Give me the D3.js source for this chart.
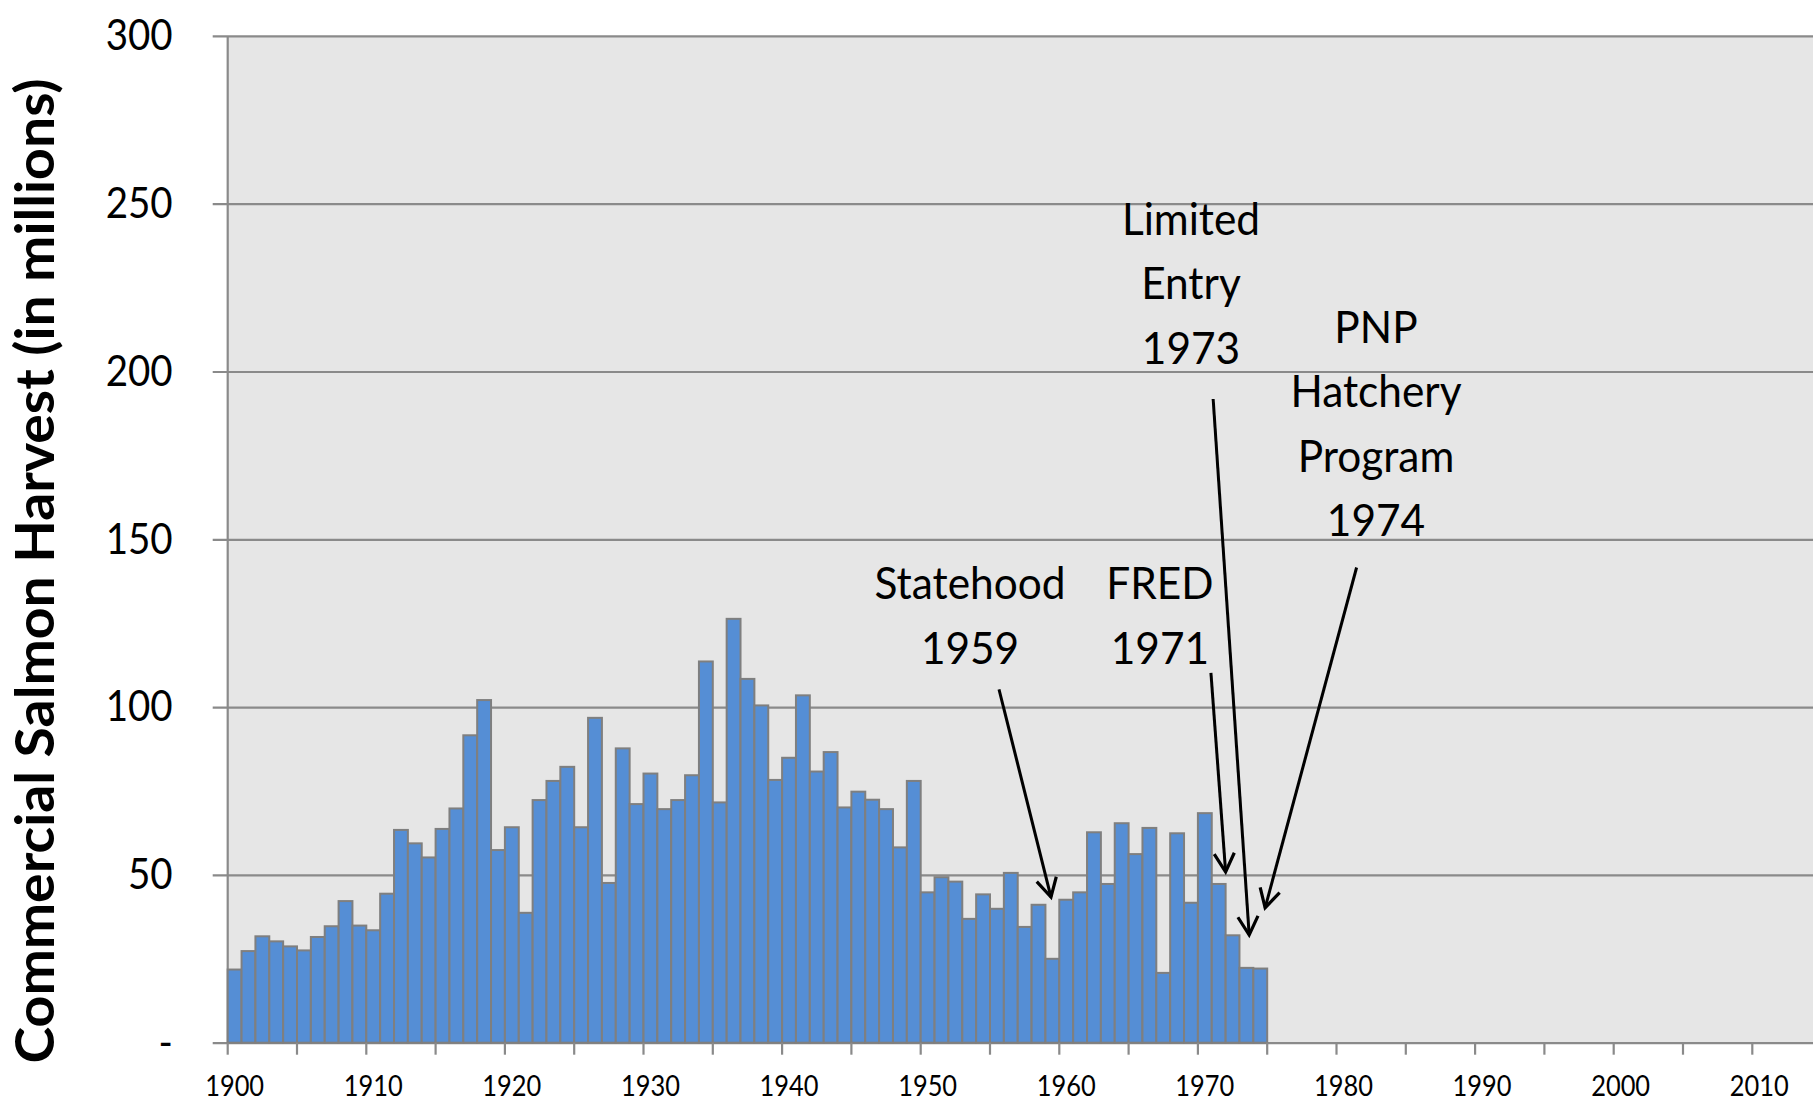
<!DOCTYPE html>
<html>
<head>
<meta charset="utf-8">
<script src="https://cdn.jsdelivr.net/npm/d3@7"></script>
<style>
  html, body { margin: 0; padding: 0; background: #fff; }
  svg { display: block; font-family: Lato, "Open Sans", sans-serif; }
</style>
</head>
<body>
<div id="chart"></div>
<script>
// harvest by year, millions of fish
const years = [1900, 1901, 1902, 1903, 1904, 1905, 1906, 1907, 1908, 1909,
  1910, 1911, 1912, 1913, 1914, 1915, 1916, 1917, 1918, 1919,
  1920, 1921, 1922, 1923, 1924, 1925, 1926, 1927, 1928, 1929,
  1930, 1931, 1932, 1933, 1934, 1935, 1936, 1937, 1938, 1939,
  1940, 1941, 1942, 1943, 1944, 1945, 1946, 1947, 1948, 1949,
  1950, 1951, 1952, 1953, 1954, 1955, 1956, 1957, 1958, 1959,
  1960, 1961, 1962, 1963, 1964, 1965, 1966, 1967, 1968, 1969,
  1970, 1971, 1972, 1973, 1974];
const harvest = [21.8, 27.3, 31.7, 30.2, 28.7, 27.5, 31.5, 34.7, 42.2, 34.9,
  33.5, 44.4, 63.4, 59.4, 55.2, 63.7, 69.8, 91.6, 102.1, 57.4,
  64.2, 38.7, 72.3, 78.0, 82.2, 64.2, 96.8, 47.6, 87.7, 71.1,
  80.2, 69.6, 72.3, 79.7, 113.6, 71.6, 126.3, 108.4, 100.5, 78.3,
  84.9, 103.5, 80.8, 86.6, 70.1, 74.8, 72.4, 69.6, 58.2, 78.0,
  44.8, 49.3, 48.0, 36.9, 44.2, 39.9, 50.6, 34.5, 41.1, 25.0,
  42.6, 44.8, 62.7, 47.3, 65.4, 56.2, 64.0, 20.8, 62.4, 41.7,
  68.4, 47.3, 32.0, 22.3, 22.1];

// axis extent and labels
const firstYear = 1900, lastYear = 2014;
const xLabelYears = [1900, 1910, 1920, 1930, 1940, 1950, 1960, 1970, 1980, 1990, 2000, 2010];
const yTicks = [0, 50, 100, 150, 200, 250, 300];
const yTickLabels = ["-", "50", "100", "150", "200", "250", "300"];
const yTitle = "Commercial Salmon Harvest (in millions)";

// event callouts, placed in (year, value) units
const annotations = [
  { lines: ["Statehood", "1959"], at: [1953.56, 132.2], from: [1955.65, 105.3], to: [1959.4, 43.4] },
  { lines: ["FRED", "1971"], at: [1967.26, 132.2], from: [1970.94, 110.2], to: [1972.0, 50.9] },
  { lines: ["Limited", "Entry", "1973"], at: [1969.5, 240.7], from: [1971.1, 191.8], to: [1973.7, 32.1] },
  { lines: ["PNP", "Hatchery", "Program", "1974"], at: [1982.85, 208.5], from: [1981.45, 141.6], to: [1974.85, 40.2] }
];

const W = 1813, H = 1102;
const plotLeft = 227.7, barW = 13.86;
const plotTop = 35.9, plotBottom = 1042.7;
const nCats = lastYear - firstYear + 1;
const plotRight = plotLeft + nCats * barW;

const svg = d3.select("#chart").append("svg")
  .attr("width", W).attr("height", H);

// text width fitting: the source uses a narrower face than we have
function naturalWidth(str, size, weight) {
  const t = svg.append("text").attr("font-size", size).attr("font-weight", weight || 400).text(str);
  const w = t.node().getComputedTextLength();
  t.remove();
  return w;
}
const yTickSize = 43, yTickSx = 67 / naturalWidth("300", yTickSize);
const xTickSize = 29.3, xTickSx = 59 / naturalWidth("1900", xTickSize);
const noteSize = 44, noteSx = 191 / naturalWidth("Statehood", noteSize);
const titleSize = 53, titleSx = 985 / naturalWidth(yTitle, titleSize, 700);

const catYears = d3.range(firstYear, lastYear + 1);
const x = d3.scaleBand().domain(catYears).range([plotLeft, plotRight]).padding(0);
const xYear = d3.scaleLinear().domain([firstYear, lastYear + 1]).range([plotLeft, plotRight]);
const y = d3.scaleLinear().domain([0, 300]).range([plotBottom, plotTop]);

// plot background
svg.append("rect")
  .attr("x", plotLeft).attr("y", plotTop)
  .attr("width", plotRight - plotLeft).attr("height", plotBottom - plotTop)
  .attr("fill", "#e6e6e6");

// y axis with gridlines
const yAxis = svg.append("g")
  .attr("transform", `translate(${plotLeft},0)`)
  .call(d3.axisLeft(y).tickValues(yTicks).tickSize(0)
    .tickFormat((d, i) => yTickLabels[i]));
yAxis.select(".domain").remove();
yAxis.selectAll(".tick line")
  .attr("x1", -15).attr("x2", plotRight - plotLeft)
  .attr("stroke", "#8a8a8a").attr("stroke-width", 2.2);
yAxis.selectAll(".tick text")
  .attr("x", null).attr("dy", null)
  .attr("transform", `translate(-55,13.7) scale(${yTickSx},1)`)
  .attr("text-anchor", "end")
  .attr("font-size", yTickSize)
  .attr("font-family", "Lato, sans-serif")
  .attr("fill", "#000");

// vertical axis line
svg.append("line")
  .attr("x1", plotLeft).attr("x2", plotLeft)
  .attr("y1", plotTop).attr("y2", plotBottom)
  .attr("stroke", "#8a8a8a").attr("stroke-width", 2.2);

// bars
svg.append("g").selectAll("rect")
  .data(years.map((yr, i) => ({ yr, v: harvest[i] })))
  .join("rect")
  .attr("x", d => x(d.yr))
  .attr("y", d => y(d.v))
  .attr("width", x.bandwidth())
  .attr("height", d => y(0) - y(d.v))
  .attr("fill", "#558ed5")
  .attr("stroke", "#7f7f7f")
  .attr("stroke-width", 2);

// x axis: ticks every 5 years on category edges, labels every 10
const xAxis = svg.append("g")
  .attr("transform", `translate(0,${plotBottom})`)
  .call(d3.axisBottom(x).tickValues(xLabelYears).tickSize(0));
xAxis.select(".domain").remove();
xAxis.selectAll(".tick text")
  .attr("y", null).attr("dy", null)
  .attr("transform", `translate(0,53.5) scale(${xTickSx},1)`)
  .attr("font-size", xTickSize)
  .attr("font-family", "Lato, sans-serif")
  .attr("fill", "#000");
svg.append("g").selectAll("line")
  .data(catYears.filter(d => (d - firstYear) % 5 === 0))
  .join("line")
  .attr("x1", d => x(d)).attr("x2", d => x(d))
  .attr("y1", plotBottom).attr("y2", plotBottom + 12)
  .attr("stroke", "#8a8a8a").attr("stroke-width", 2.2);

// y axis title
svg.append("text")
  .attr("transform", `translate(54,571) rotate(-90) scale(${titleSx},1)`)
  .attr("text-anchor", "middle")
  .attr("font-size", titleSize)
  .attr("font-weight", 700)
  .attr("fill", "#000")
  .text(yTitle);

// callouts
const notes = svg.append("g");
annotations.forEach(a => {
  const cx = xYear(a.at[0]), by = y(a.at[1]);
  a.lines.forEach((line, i) => {
    notes.append("text")
      .attr("transform", `translate(${cx},${by + i * 64.5}) scale(${noteSx},1)`)
      .attr("text-anchor", "middle")
      .attr("font-size", noteSize)
      .attr("fill", "#000")
      .text(line);
  });
  const x1 = xYear(a.from[0]), y1 = y(a.from[1]);
  const x2 = xYear(a.to[0]), y2 = y(a.to[1]);
  const ang = Math.atan2(y2 - y1, x2 - x1);
  const len = 21, spread = 0.5;
  const head = [ang + Math.PI - spread, ang + Math.PI + spread]
    .map(t => [x2 + len * Math.cos(t), y2 + len * Math.sin(t)]);
  notes.append("line")
    .attr("x1", x1).attr("y1", y1).attr("x2", x2).attr("y2", y2)
    .attr("stroke", "#000").attr("stroke-width", 3);
  notes.append("path")
    .attr("d", `M${head[0][0]},${head[0][1]}L${x2},${y2}L${head[1][0]},${head[1][1]}`)
    .attr("fill", "none").attr("stroke", "#000").attr("stroke-width", 3.2)
    .attr("stroke-linejoin", "miter");
});
</script>
</body>
</html>
